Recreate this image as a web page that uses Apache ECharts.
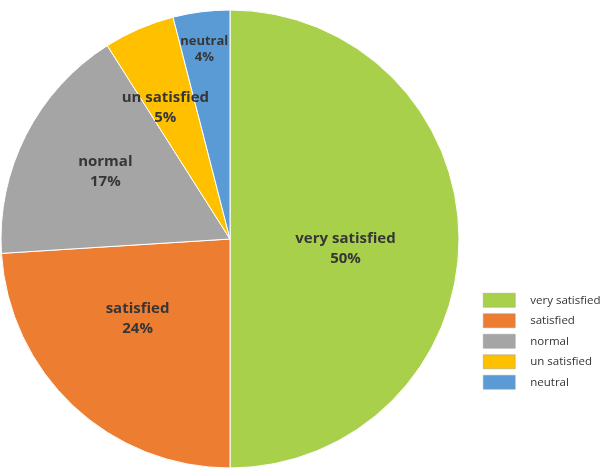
<!DOCTYPE html>
<html><head><meta charset="utf-8">
<script src="https://cdn.jsdelivr.net/npm/echarts@6/dist/echarts.min.js"></script>
<style>html,body{margin:0;padding:0;background:#fff}#c{width:600px;height:469px}</style>
</head><body><div id="c"></div>
<script>
const categories = ["very satisfied", "satisfied", "normal", "un satisfied", "neutral"];
const values = [50, 24, 17, 5, 4];
const colors = ["#A9D04B", "#ED7D31", "#A5A5A5", "#FFC000", "#5B9BD5"];
// label nudges (style only) to mimic best-fit placement
const labelNudge = [[-2, 10], [-12, -6], [-20, -14], [-18, -23], [-11, -73]];

const chart = echarts.init(document.getElementById('c'));
chart.setOption({
  animation: false,
  color: colors,
  legend: {
    orient: 'vertical',
    left: 483,
    top: 293,
    padding: 0,
    itemWidth: 32,
    itemHeight: 14,
    itemGap: 6,
    icon: 'rect',
    itemStyle: { borderColor: '#9a9a9a', borderWidth: 0.5 },
    textStyle: { fontFamily: 'Open Sans', fontSize: 11.5, lineHeight: 14, color: '#333', padding: [0, 0, 0, 10] },
    data: categories
  },
  series: [{
    type: 'pie',
    center: [230, 239],
    radius: [0, 229],
    startAngle: 90,
    clockwise: true,
    avoidLabelOverlap: false,
    itemStyle: { borderColor: '#fff', borderWidth: 1 },
    label: {
      position: 'inside',
      formatter: p => p.name + '\n' + p.value + '%',
      fontFamily: 'Open Sans',
      fontWeight: 'bold',
      fontSize: 15,
      lineHeight: 20,
      color: '#363636'
    },
    labelLayout: function (params) {
      const n = labelNudge[params.dataIndex];
      return { dx: n[0], dy: n[1], hideOverlap: false };
    },
    labelLine: { show: false },
    data: categories.map((c, i) => {
      const d = { name: c, value: values[i] };
      if (i === 4) d.label = { fontSize: 13, lineHeight: 16 };
      return d;
    })
  }]
});
</script></body></html>
